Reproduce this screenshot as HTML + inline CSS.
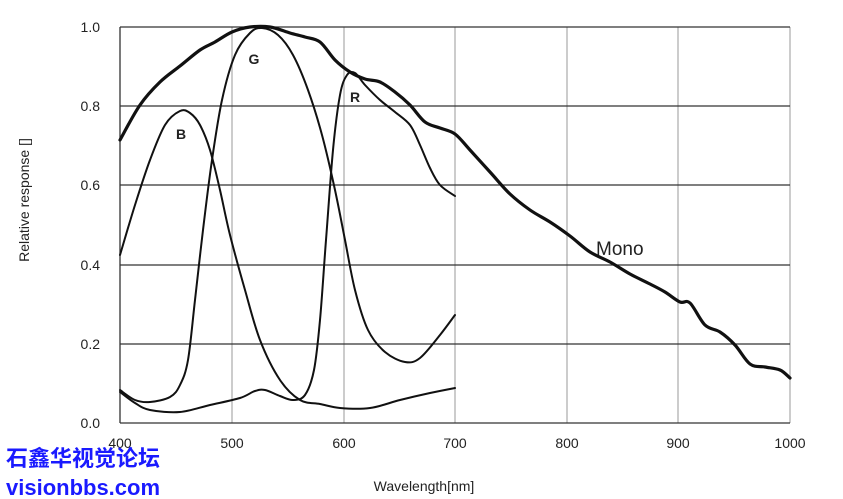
<!DOCTYPE html>
<html><head><meta charset="utf-8"><style>
body{margin:0;background:#fff;width:843px;height:499px;overflow:hidden}
svg{display:block}
text{font-family:"Liberation Sans",Arial,sans-serif;fill:#222}
</style></head><body>
<svg width="843" height="499" viewBox="0 0 843 499">
<g stroke="#bbb" stroke-width="1.5">
<line x1="232" y1="27" x2="232" y2="423"/><line x1="344" y1="27" x2="344" y2="423"/>
<line x1="455" y1="27" x2="455" y2="423"/><line x1="567" y1="27" x2="567" y2="423"/>
<line x1="678" y1="27" x2="678" y2="423"/><line x1="790" y1="27" x2="790" y2="423"/>
</g>
<g stroke="#333" stroke-width="1.3">
<line x1="120" y1="27" x2="790" y2="27"/><line x1="120" y1="106" x2="790" y2="106"/>
<line x1="120" y1="185" x2="790" y2="185"/><line x1="120" y1="265" x2="790" y2="265"/>
<line x1="120" y1="344" x2="790" y2="344"/><line x1="120" y1="423" x2="790" y2="423"/>
<line x1="120" y1="27" x2="120" y2="423"/>
</g>
<g fill="none" stroke="#111" stroke-linejoin="round" stroke-linecap="round">
<path class="s" stroke-width="3.2" data-p="120,140 140,105 160,82 180,66 200,50 215,42 232,32 250,27 270,27 290,33 305,37 320,42 335,60 350,72 365,79 380,82 395,92 410,105 425,122 440,128 455,134 470,150 490,172 510,194 530,210 550,222 570,236 590,252 610,262 630,274 650,284 665,292 680,302 690,303 705,325 720,332 735,345 750,364 765,367 780,370 790,378"/>
<path class="s" stroke-width="2" data-p="120,390 135,400 150,402 170,397 180,385 188,360 195,300 203,230 212,160 222,100 235,55 250,33 262,28 278,35 293,55 308,90 322,135 335,190 345,240 355,290 368,330 385,352 405,362 420,358 440,335 455,315"/>
<path class="s" stroke-width="2" data-p="120,255 135,205 150,160 165,125 180,111 190,113 200,125 210,150 220,190 230,235 245,290 260,340 280,380 300,400 320,404 340,408 370,408 400,400 430,393 455,388"/>
<path class="s" stroke-width="2" data-p="120,392 135,403 150,410 180,412 210,405 240,398 255,391 265,390 280,396 293,400 305,395 314,370 320,320 326,240 333,150 340,95 347,75 355,73 365,85 380,100 395,112 410,125 420,145 430,168 440,185 455,196"/>
</g>
<g font-weight="bold" font-size="14" text-anchor="middle">
<text x="254" y="64">G</text><text x="181" y="139">B</text><text x="355" y="102">R</text>
</g>
<text x="596" y="255" font-size="19">Mono</text>
<g font-size="14" text-anchor="end">
<text x="100" y="32">1.0</text><text x="100" y="111">0.8</text><text x="100" y="190">0.6</text>
<text x="100" y="270">0.4</text><text x="100" y="349">0.2</text><text x="100" y="428">0.0</text>
</g>
<g font-size="14" text-anchor="middle">
<text x="120" y="448">400</text><text x="232" y="448">500</text><text x="344" y="448">600</text>
<text x="455" y="448">700</text><text x="567" y="448">800</text><text x="678" y="448">900</text><text x="790" y="448">1000</text>
</g>
<text x="424" y="491" font-size="14" text-anchor="middle">Wavelength[nm]</text>
<text transform="translate(29,200) rotate(-90)" font-size="14" text-anchor="middle">Relative response []</text>
<text x="6" y="466" font-size="22" font-weight="bold" style="fill:#1a1aff;font-family:'Liberation Sans','Noto Sans CJK SC',sans-serif">石鑫华视觉论坛</text>
<text x="6" y="495" font-size="22" font-weight="bold" style="fill:#1a1aff">visionbbs.com</text>
</svg>
<script>
document.querySelectorAll('path.s').forEach(function(el){
var p=el.getAttribute('data-p').trim().split(/\s+/).map(function(s){return s.split(',').map(Number)});
var d='M'+p[0][0]+','+p[0][1];
for(var i=0;i<p.length-1;i++){
var p0=p[i-1]||p[i],p1=p[i],p2=p[i+1],p3=p[i+2]||p2;
var c1x=p1[0]+(p2[0]-p0[0])/6,c1y=p1[1]+(p2[1]-p0[1])/6;
var c2x=p2[0]-(p3[0]-p1[0])/6,c2y=p2[1]-(p3[1]-p1[1])/6;
d+=' C'+c1x.toFixed(1)+','+c1y.toFixed(1)+' '+c2x.toFixed(1)+','+c2y.toFixed(1)+' '+p2[0]+','+p2[1];
}
el.setAttribute('d',d);
});
</script>
</body></html>
